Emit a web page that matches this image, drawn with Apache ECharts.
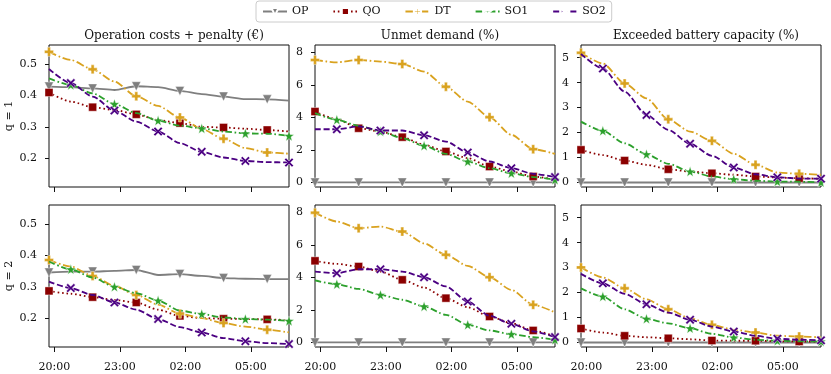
<!DOCTYPE html>
<html>
<head>
<meta charset="utf-8">
<script src="https://cdn.jsdelivr.net/npm/echarts@6/dist/echarts.min.js"></script>
<style>
  html, body { margin: 0; padding: 0; background: #fff; }
  #main { width: 831px; height: 374px; }
</style>
</head>
<body>
<div id="main"></div>
<script>
// time steps (hourly samples) and x tick labels
var times = ['19:45', '20:45', '21:45', '22:45', '23:45', '00:45', '01:45', '02:45', '03:45', '04:45', '05:45', '06:45'];
var tickLabels = ['20:00', '23:00', '02:00', '05:00'];
var names = ['OP', 'QO', 'DT', 'SO1', 'SO2'];
var panelTitles = ['Operation costs + penalty (€)', 'Unmet demand (%)', 'Exceeded battery capacity (%)'];
var rowNames = ['q = 1', 'q = 2'];

// y ticks per column
var costTicks = [0.2, 0.3, 0.4, 0.5];
var unmetTicks = [0, 2, 4, 6, 8];
var batteryTicks = [0, 1, 2, 3, 4, 5];

// operation costs + penalty, q = 1
var cost1_OP = [0.429, 0.427, 0.423, 0.418, 0.430, 0.427, 0.415, 0.405, 0.397, 0.389, 0.388, 0.384];
var cost1_QO = [0.410, 0.381, 0.363, 0.354, 0.340, 0.322, 0.312, 0.300, 0.298, 0.294, 0.290, 0.285];
var cost1_DT = [0.540, 0.514, 0.484, 0.445, 0.398, 0.367, 0.330, 0.293, 0.262, 0.232, 0.218, 0.214];
var cost1_SO1 = [0.455, 0.434, 0.407, 0.373, 0.344, 0.320, 0.304, 0.295, 0.285, 0.279, 0.278, 0.271];
var cost1_SO2 = [0.485, 0.440, 0.397, 0.352, 0.317, 0.285, 0.248, 0.220, 0.202, 0.191, 0.187, 0.186];
// q = 2
var cost2_OP = [0.346, 0.349, 0.349, 0.351, 0.354, 0.338, 0.341, 0.335, 0.328, 0.326, 0.325, 0.325];
var cost2_QO = [0.287, 0.278, 0.267, 0.258, 0.250, 0.227, 0.207, 0.200, 0.198, 0.197, 0.196, 0.193];
var cost2_DT = [0.386, 0.365, 0.335, 0.303, 0.274, 0.243, 0.214, 0.200, 0.184, 0.173, 0.163, 0.154];
var cost2_SO1 = [0.381, 0.356, 0.330, 0.300, 0.280, 0.256, 0.224, 0.213, 0.202, 0.197, 0.195, 0.191];
var cost2_SO2 = [0.317, 0.296, 0.274, 0.250, 0.227, 0.197, 0.171, 0.154, 0.136, 0.126, 0.120, 0.117];

// unmet demand (%), q = 1
var unmet1_OP = [0, 0, 0, 0, 0, 0, 0, 0, 0, 0, 0, 0];
var unmet1_QO = [4.37, 3.90, 3.34, 3.14, 2.79, 2.32, 1.91, 1.50, 0.98, 0.68, 0.37, 0.16];
var unmet1_DT = [7.55, 7.40, 7.55, 7.45, 7.30, 6.83, 5.90, 4.98, 4.02, 2.93, 2.05, 1.76];
var unmet1_SO1 = [4.27, 3.86, 3.49, 3.14, 2.73, 2.26, 1.76, 1.29, 0.88, 0.57, 0.33, 0.16];
var unmet1_SO2 = [3.28, 3.28, 3.45, 3.20, 3.20, 2.91, 2.52, 1.85, 1.29, 0.88, 0.53, 0.33];
// q = 2
var unmet2_OP = [0, 0, 0, 0, 0, 0, 0, 0, 0, 0, 0, 0];
var unmet2_QO = [5.03, 4.84, 4.68, 4.37, 3.86, 3.38, 2.73, 2.17, 1.60, 1.19, 0.74, 0.37];
var unmet2_DT = [8.00, 7.45, 7.04, 7.14, 6.83, 6.11, 5.40, 4.72, 4.02, 3.24, 2.32, 1.85];
var unmet2_SO1 = [3.82, 3.59, 3.30, 2.93, 2.63, 2.22, 1.70, 1.09, 0.74, 0.51, 0.33, 0.16];
var unmet2_SO2 = [4.37, 4.27, 4.51, 4.51, 4.37, 4.02, 3.45, 2.52, 1.64, 1.15, 0.68, 0.33];

// exceeded battery capacity (%), q = 1
var batt1_OP = [0, 0, 0, 0, 0, 0, 0, 0, 0, 0, 0, 0];
var batt1_QO = [1.31, 1.10, 0.88, 0.71, 0.53, 0.44, 0.37, 0.31, 0.24, 0.20, 0.17, 0.15];
var batt1_DT = [5.20, 4.77, 3.97, 3.37, 2.53, 2.04, 1.67, 1.15, 0.71, 0.40, 0.35, 0.31];
var batt1_SO1 = [2.44, 2.07, 1.57, 1.13, 0.75, 0.44, 0.24, 0.13, 0.07, 0.04, 0.03, 0.01];
var batt1_SO2 = [5.15, 4.57, 3.64, 2.71, 2.11, 1.55, 1.07, 0.60, 0.33, 0.21, 0.16, 0.15];
// q = 2
var batt2_OP = [0, 0, 0, 0, 0, 0, 0, 0, 0, 0, 0, 0];
var batt2_QO = [0.56, 0.40, 0.27, 0.21, 0.17, 0.13, 0.08, 0.07, 0.07, 0.05, 0.04, 0.04];
var batt2_DT = [3.01, 2.61, 2.17, 1.73, 1.33, 0.97, 0.71, 0.51, 0.40, 0.27, 0.24, 0.21];
var batt2_SO1 = [2.17, 1.84, 1.33, 0.95, 0.77, 0.57, 0.35, 0.20, 0.11, 0.07, 0.05, 0.04];
var batt2_SO2 = [2.75, 2.37, 1.95, 1.53, 1.20, 0.91, 0.64, 0.44, 0.27, 0.15, 0.11, 0.09];

var panels = [
  [cost1_OP, cost1_QO, cost1_DT, cost1_SO1, cost1_SO2],
  [unmet1_OP, unmet1_QO, unmet1_DT, unmet1_SO1, unmet1_SO2],
  [batt1_OP, batt1_QO, batt1_DT, batt1_SO1, batt1_SO2],
  [cost2_OP, cost2_QO, cost2_DT, cost2_SO1, cost2_SO2],
  [unmet2_OP, unmet2_QO, unmet2_DT, unmet2_SO1, unmet2_SO2],
  [batt2_OP, batt2_QO, batt2_DT, batt2_SO1, batt2_SO2]
];

// hours after 20:00
function toHours(t) {
  var p = t.split(':');
  var h = +p[0] + (+p[1]) / 60;
  if (h < 12) h += 24;
  return h - 20;
}
var xs = times.map(toHours);
var tickValues = tickLabels.map(toHours);

var FONT = 'DejaVu Serif';
var colLeft = [49, 315, 581];
var rowTop = [45, 205];
var colTicks = [costTicks, unmetTicks, batteryTicks];
var colRange = [[0.1075, 0.562], [-0.28, 8.47], [-0.18, 5.51]];

// styles for each method
var styles = {
  OP: { color: '#7f7f7f', type: 'solid', symbol: 'triangle', rotate: 180, size: 9, off: 0 },
  QO: { color: '#8b0000', type: [1.6, 2.8], symbol: 'rect', rotate: 0, size: 8, off: 0 },
  DT: { color: '#d9a21f', type: [8, 2.6, 1.6, 2.6], symbol: 'path://M2,0H4V2H6V4H4V6H2V4H0V2H2Z', rotate: 0, size: 9, off: 0 },
  SO1: { color: '#2ca02c', type: [6.5, 2.6, 1.6, 2.6], symbol: 'path://M3,0L3.75,2.1L6,2.2L4.2,3.6L4.85,5.8L3,4.5L1.15,5.8L1.8,3.6L0,2.2L2.25,2.1Z', rotate: 0, size: 10, off: 1 },
  SO2: { color: '#4b0082', type: [6, 2.6], symbol: 'path://M1,0L3,2L5,0L6,1L4,3L6,5L5,6L3,4L1,6L0,5L2,3L0,1Z', rotate: 0, size: 9, off: 1 }
};

var grids = [], xAxes = [], yAxes = [], series = [], titles = [];
for (var p = 0; p < 6; p++) {
  var row = Math.floor(p / 3), col = p % 3;
  grids.push({
    left: colLeft[col], top: rowTop[row], width: 240, height: 142,
    show: true, borderColor: '#111', borderWidth: 1, backgroundColor: 'transparent'
  });
  xAxes.push({
    type: 'value', gridIndex: p, min: -0.25, max: 10.75,
    splitLine: { show: false },
    axisLine: { show: false, onZero: false },
    axisTick: { show: true, length: 5, customValues: tickValues, lineStyle: { color: '#111' } },
    axisLabel: {
      show: row === 1, customValues: tickValues, margin: 15,
      fontFamily: FONT, fontSize: 11, color: '#111',
      formatter: function (v) {
        var i = tickValues.indexOf(v);
        return i >= 0 ? tickLabels[i] : '';
      }
    }
  });
  yAxes.push({
    type: 'value', gridIndex: p, min: colRange[col][0], max: colRange[col][1],
    name: col === 0 ? rowNames[row] : '',
    nameLocation: 'middle', nameGap: 34,
    nameTextStyle: { fontFamily: FONT, fontSize: 11, color: '#111' },
    splitLine: { show: false },
    axisLine: { show: false, onZero: false },
    axisTick: { show: true, length: 4, customValues: colTicks[col], lineStyle: { color: '#111' } },
    axisLabel: {
      customValues: colTicks[col], margin: 12,
      fontFamily: FONT, fontSize: 11, color: '#111',
      formatter: col === 0 ? function (v) { return v.toFixed(1); } : function (v) { return String(v); }
    }
  });
  names.forEach(function (nm, k) {
    var s = styles[nm];
    series.push({
      type: 'line', name: nm, xAxisIndex: p, yAxisIndex: p,
      data: panels[p][k].map(function (v, i) { return [xs[i], v]; }),
      smooth: 0.25, smoothMonotone: 'x',
      symbol: s.symbol, symbolRotate: s.rotate, showAllSymbol: true,
      symbolSize: (function (size, off) {
        return function (val, params) { return params.dataIndex % 2 === off ? size : 0; };
      })(s.size, s.off),
      lineStyle: { color: s.color, width: 1.8, type: s.type, cap: 'butt' },
      itemStyle: { color: s.color, borderColor: '#fff', borderWidth: 0.4 },
      emphasis: { disabled: true },
      animation: false, clip: true, z: 2 + k
    });
  });
}

panelTitles.forEach(function (t, c) {
  titles.push({
    text: t, left: colLeft[c] + 120, top: 25, textAlign: 'center',
    textStyle: { fontFamily: FONT, fontSize: 12, fontWeight: 'normal', color: '#111' }
  });
});

var myChart = echarts.init(document.getElementById('main'), null, { renderer: 'canvas' });
var option = {
  backgroundColor: '#fff',
  animation: false,
  title: titles,
  legend: {
    data: names.map(function (n) { return { name: n, symbolRotate: styles[n].rotate }; }),
    top: 1, left: 256,
    itemWidth: 24, itemHeight: 9, itemGap: 24,
    padding: [5, 6], borderColor: '#cccccc', borderWidth: 1, borderRadius: 3,
    textStyle: { fontFamily: FONT, fontSize: 11, color: '#111' }
  },
  grid: grids,
  xAxis: xAxes,
  yAxis: yAxes,
  series: series
};
myChart.setOption(option);
</script>
</body>
</html>
